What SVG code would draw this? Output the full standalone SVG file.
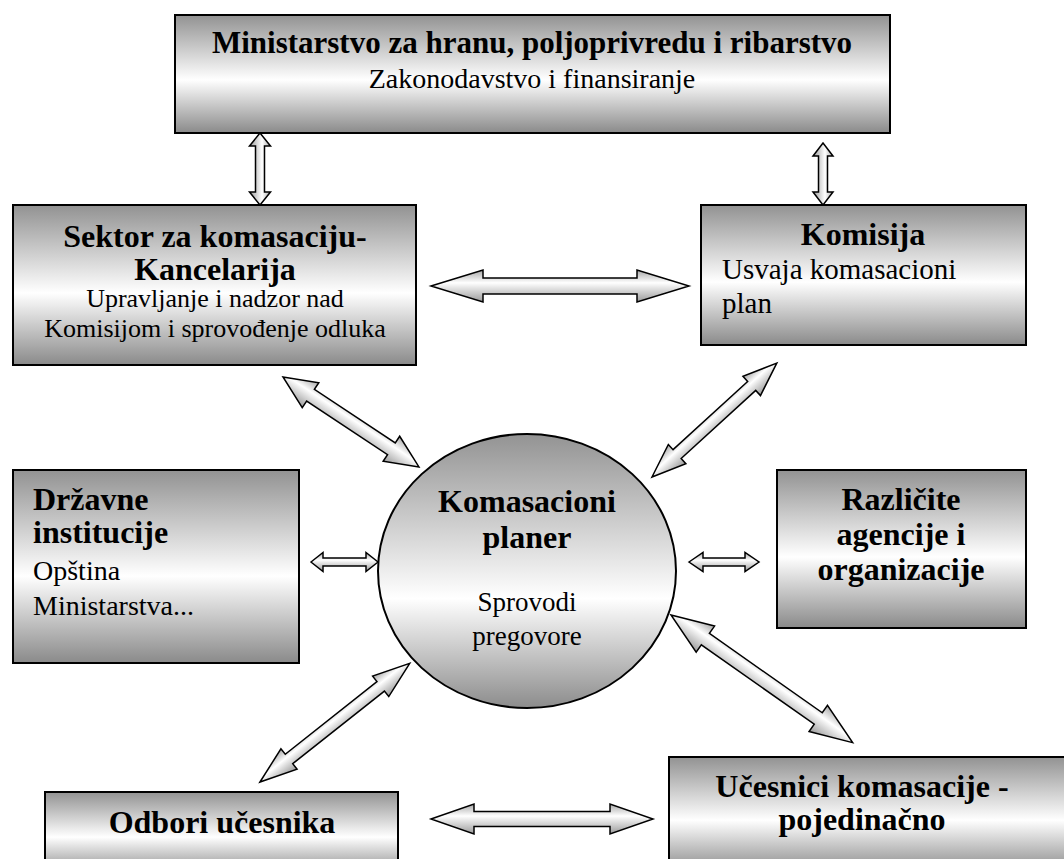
<svg xmlns="http://www.w3.org/2000/svg" width="1064" height="859" viewBox="0 0 1064 859">
  <defs>
    <!-- metallic shading for boxes: grey edges, light band below the middle -->
    <linearGradient id="boxFill" x1="0" y1="0" x2="0" y2="1">
      <stop offset="0" stop-color="#929292"/>
      <stop offset="0.55" stop-color="#ffffff"/>
      <stop offset="1" stop-color="#8a8a8a"/>
    </linearGradient>
    <linearGradient id="ovalFill" x1="0" y1="0" x2="0" y2="1">
      <stop offset="0" stop-color="#939393"/>
      <stop offset="0.6" stop-color="#ffffff"/>
      <stop offset="1" stop-color="#8c8c8c"/>
    </linearGradient>
    <!-- arrow shading runs across the arrow's width (local y axis) -->
    <linearGradient id="arrowFill" x1="0" y1="0" x2="0" y2="1">
      <stop offset="0" stop-color="#a8a8a8"/>
      <stop offset="0.4" stop-color="#ffffff"/>
      <stop offset="1" stop-color="#9a9a9a"/>
    </linearGradient>
  </defs>
  <style>
    .box { fill: url(#boxFill); stroke: #000; stroke-width: 2; }
    .oval { fill: url(#ovalFill); stroke: #000; stroke-width: 2; }
    .arrow { fill: url(#arrowFill); stroke: #000; stroke-width: 1.5; stroke-linejoin: miter; }
    .t { font-family: "Liberation Serif", "Times New Roman", serif; fill: #000; }
    .b { font-weight: bold; font-size: 32px; }
    .r { font-size: 28px; }
    .c { text-anchor: middle; }
  </style>
  <rect width="1064" height="859" fill="#ffffff"/>

  <g id="connectors">
    <!-- Ministarstvo <-> Sektor -->
    <path class="arrow" transform="translate(260,133) rotate(90)" d="M0,0 L13,-10.5 L13,-4.5 L59,-4.5 L59,-10.5 L72,0 L59,10.5 L59,4.5 L13,4.5 L13,10.5 Z"/>
    <!-- Ministarstvo <-> Komisija -->
    <path class="arrow" transform="translate(823,143) rotate(90)" d="M0,0 L13,-10 L13,-4.5 L49,-4.5 L49,-10 L62,0 L49,10 L49,4.5 L13,4.5 L13,10 Z"/>
    <!-- Sektor <-> Komisija -->
    <path class="arrow" transform="translate(431,286)" d="M0,0 L52,-16 L52,-8 L206,-8 L206,-16 L258,0 L206,16 L206,8 L52,8 L52,16 Z"/>
    <!-- Sektor <-> planer -->
    <path class="arrow" transform="translate(283,377) rotate(33.5)" d="M0,0 L33,-15 L33,-7 L130,-7 L130,-15 L163,0 L130,15 L130,7 L33,7 L33,15 Z"/>
    <!-- Komisija <-> planer -->
    <path class="arrow" transform="translate(652,477) rotate(-42.4)" d="M0,0 L34,-13 L34,-6 L135,-6 L135,-13 L169,0 L135,13 L135,6 L34,6 L34,13 Z"/>
    <!-- Državne institucije <-> planer -->
    <path class="arrow" transform="translate(311,562)" d="M0,0 L12,-9.5 L12,-4 L55,-4 L55,-9.5 L67,0 L55,9.5 L55,4 L12,4 L12,9.5 Z"/>
    <!-- planer <-> agencije -->
    <path class="arrow" transform="translate(689,562)" d="M0,0 L14,-9.5 L14,-4 L56,-4 L56,-9.5 L70,0 L56,9.5 L56,4 L14,4 L14,9.5 Z"/>
    <!-- Odbori <-> planer -->
    <path class="arrow" transform="translate(260,782) rotate(-38.4)" d="M0,0 L37,-13 L37,-6 L154,-6 L154,-13 L191,0 L154,13 L154,6 L37,6 L37,13 Z"/>
    <!-- planer <-> Učesnici -->
    <path class="arrow" transform="translate(671,615) rotate(35.1)" d="M0,0 L42,-16 L42,-7 L180,-7 L180,-16 L222,0 L180,16 L180,7 L42,7 L42,16 Z"/>
    <!-- Odbori <-> Učesnici -->
    <path class="arrow" transform="translate(431,819)" d="M0,0 L43,-15 L43,-7.5 L179,-7.5 L179,-15 L222,0 L179,15 L179,7.5 L43,7.5 L43,15 Z"/>
  </g>

  <g id="ministarstvo">
    <rect class="box" x="175" y="15" width="715" height="118"/>
    <text class="t c" x="532" y="53" font-weight="bold" font-size="31">Ministarstvo za hranu, poljoprivredu i ribarstvo</text>
    <text class="t c" x="532" y="88" font-size="28">Zakonodavstvo i finansiranje</text>
  </g>

  <g id="sektor">
    <rect class="box" x="13" y="205" width="403" height="160"/>
    <text class="t b c" x="215" y="247">Sektor za komasaciju-</text>
    <text class="t b c" x="215" y="280">Kancelarija</text>
    <text class="t c" x="215" y="307" font-size="26">Upravljanje i nadzor nad</text>
    <text class="t c" x="215" y="337" font-size="26">Komisijom i sprovođenje odluka</text>
  </g>

  <g id="komisija">
    <rect class="box" x="701" y="205" width="325" height="140"/>
    <text class="t b c" x="863" y="245">Komisija</text>
    <text class="t" x="722" y="279" font-size="29">Usvaja komasacioni</text>
    <text class="t" x="722" y="313" font-size="29">plan</text>
  </g>

  <g id="drzavne-institucije">
    <rect class="box" x="13" y="470" width="286" height="193"/>
    <text class="t b" x="33" y="510">Državne</text>
    <text class="t b" x="33" y="543">institucije</text>
    <text class="t r" x="33" y="580">Opština</text>
    <text class="t r" x="33" y="615">Ministarstva...</text>
  </g>

  <g id="komasacioni-planer">
    <ellipse class="oval" cx="527" cy="571" rx="149" ry="137"/>
    <text class="t b c" x="527" y="512">Komasacioni</text>
    <text class="t b c" x="527" y="548">planer</text>
    <text class="t c" x="527" y="611" font-size="27">Sprovodi</text>
    <text class="t c" x="527" y="645" font-size="27">pregovore</text>
  </g>

  <g id="agencije">
    <rect class="box" x="777" y="470" width="249" height="158"/>
    <text class="t b c" x="901" y="510">Različite</text>
    <text class="t b c" x="901" y="545">agencije i</text>
    <text class="t b c" x="901" y="580">organizacije</text>
  </g>

  <g id="odbori">
    <rect class="box" x="45" y="792" width="353" height="82"/>
    <text class="t b c" x="222" y="833">Odbori učesnika</text>
  </g>

  <g id="ucesnici">
    <rect class="box" x="669" y="757" width="400" height="115"/>
    <text class="t b c" x="862" y="797">Učesnici komasacije -</text>
    <text class="t b c" x="862" y="830">pojedinačno</text>
  </g>
</svg>
